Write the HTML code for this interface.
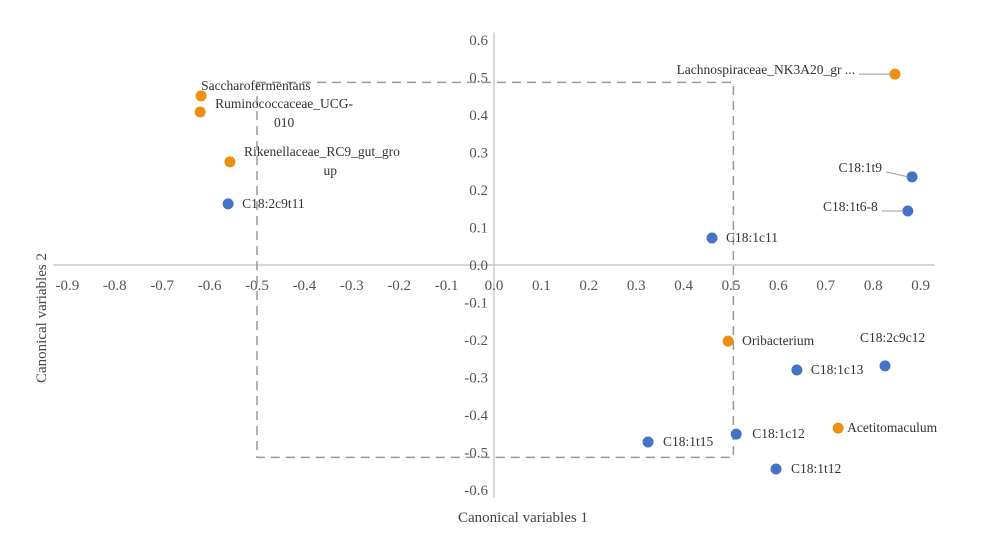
<!DOCTYPE html>
<html><head><meta charset="utf-8"><style>
body{margin:0;background:#fff;}
svg{display:block;font-family:"Liberation Serif",serif;}
</style></head><body>
<svg id="chart" width="1000" height="537">
<g id="axes"></g><g id="box"></g><g id="pts"></g>
<text x="523" y="522" font-size="15" fill="#444" text-anchor="middle">Canonical  variables  1</text>
<text x="0" y="0" font-size="15" fill="#444" text-anchor="middle" transform="translate(46,318) rotate(-90)">Canonical  variables  2</text>
</svg>
<script>
const xTicks=[-0.9,-0.8,-0.7,-0.6,-0.5,-0.4,-0.3,-0.2,-0.1,0.0,0.1,0.2,0.3,0.4,0.5,0.6,0.7,0.8,0.9];
const yTicks=[0.6,0.5,0.4,0.3,0.2,0.1,0.0,-0.1,-0.2,-0.3,-0.4,-0.5,-0.6];
const names=["Lachnospiraceae_NK3A20_gr ...","C18:1t9","C18:1t6-8","Saccharofermentans","Ruminococcaceae_UCG-|010","Rikenellaceae_RC9_gut_gro|up","C18:2c9t11","C18:1c11","Oribacterium","C18:2c9c12","C18:1c13","Acetitomaculum","C18:1c12","C18:1t15","C18:1t12"];
const xVals=[0.846,0.882,0.873,-0.618,-0.620,-0.557,-0.561,0.460,0.494,0.825,0.639,0.726,0.511,0.325,0.595];
const yVals=[0.509,0.235,0.144,0.451,0.408,0.275,0.163,0.072,-0.203,-0.269,-0.280,-0.435,-0.451,-0.472,-0.544];
const groups=["g","f","f","g","g","g","f","f","g","f","f","g","f","f","f"];
const boxX=[-0.5,0.505];const boxY=[0.487,-0.513];
const X=v=>494+v*474, Y=v=>265-v*375;
const NS="http://www.w3.org/2000/svg";
function mk(t,a,p){const e=document.createElementNS(NS,t);for(const k in a)e.setAttribute(k,a[k]);p.appendChild(e);return e;}
const ax=document.getElementById('axes');
let l=mk('line',{x1:X(-0.93),x2:X(0.93),y1:Y(0),y2:Y(0),stroke:'#c8c8c8','stroke-width':1.5},ax);

l=mk('line',{x1:X(0),x2:X(0),y1:Y(0.62),y2:Y(-0.62),stroke:'#c8c8c8','stroke-width':1.5},ax);

xTicks.forEach(v=>{const t=mk('text',{x:X(v),y:Y(0)+25,'font-size':15,fill:'#555','text-anchor':'middle'},ax);t.textContent=v.toFixed(1);
});
yTicks.forEach(v=>{const t=mk('text',{x:X(0)-6,y:Y(v)+5,'font-size':15,fill:'#555','text-anchor':'end'},ax);t.textContent=v.toFixed(1);
});
const b=mk('rect',{x:X(boxX[0]),y:Y(boxY[0]),width:X(boxX[1])-X(boxX[0]),height:Y(boxY[1])-Y(boxY[0]),fill:'none',stroke:'#999','stroke-width':1.5,'stroke-dasharray':'9,6'},document.getElementById('box'));

const pg=document.getElementById('pts');
const lab={0:[-40,0,'end',true],1:[-30,-5,'end',true],2:[-30,0,'end',true],3:[0,-6,'start'],4:[15,-4,'start'],5:[14,-6,'start'],6:[14,4,'start'],7:[14,4,'start'],8:[14,4,'start'],9:[-25,-24,'start'],10:[14,4,'start'],11:[9,4,'start'],12:[16,4,'start'],13:[15,4,'start'],14:[15,4,'start']};
names.forEach((n,i)=>{const cx=X(xVals[i]),cy=Y(yVals[i]);
const c=mk('circle',{cx,cy,r:5.5,fill:groups[i]==='g'?'#ED8F10':'#4472C4'},pg);


const L=lab[i];const parts=n.split('|');
if(L[3]){const ln=mk('line',{x1:cx+L[0]+4,y1:cy+L[1],x2:cx-4,y2:cy,stroke:'#999','stroke-width':1},pg);
}
const t=mk('text',{x:cx+L[0],y:cy+L[1],'font-size':13.5,fill:'#333','text-anchor':L[2]},pg);

if(parts.length>1){t.textContent=parts[0];
const w=parts[0].length*6.9;
const t2=mk('text',{x:cx+L[0]+w/2,y:cy+L[1]+19,'font-size':13.5,fill:'#333','text-anchor':'middle'},pg);t2.textContent=parts[1];
}
else t.textContent=n;
});
</script>
</body></html>
